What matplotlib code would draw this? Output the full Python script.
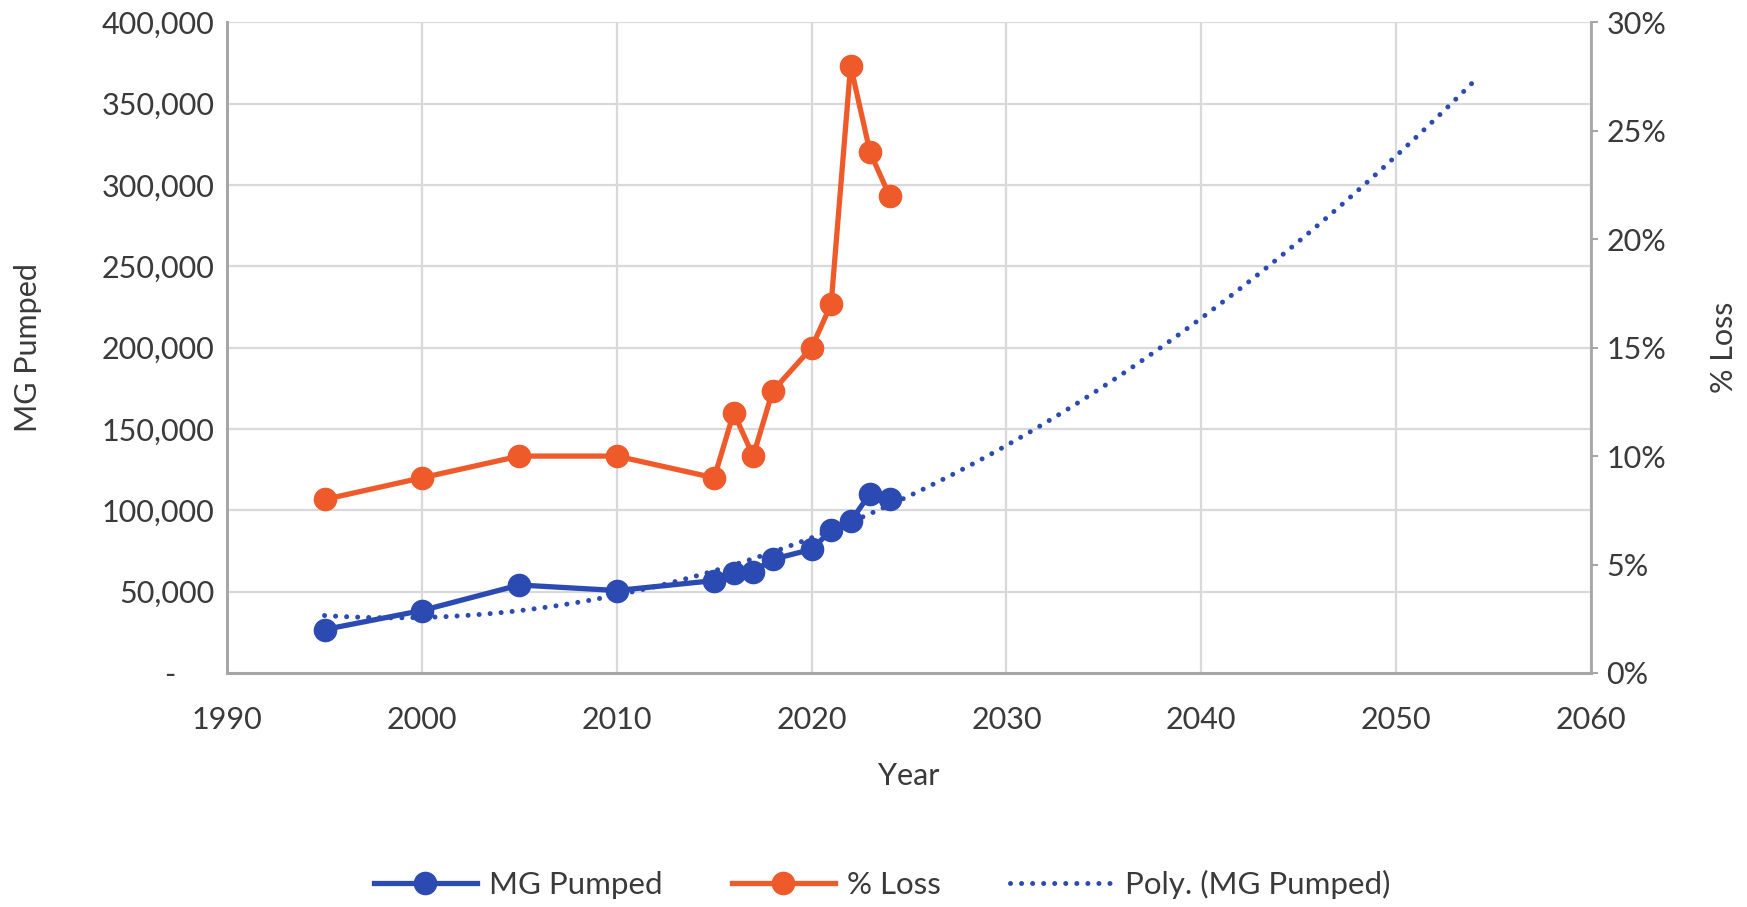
"""
MG pumped per year and % water loss, with a 2nd-order polynomial
trendline on MG pumped projected 30 years ahead (Excel-style).
"""

import numpy as np
import matplotlib
matplotlib.use("Agg")
import matplotlib.pyplot as plt
from matplotlib.lines import Line2D
from matplotlib.ticker import FuncFormatter, MultipleLocator

# --- data ---
years = [1995, 2000, 2005, 2010, 2015, 2016, 2017, 2018, 2020, 2021, 2022, 2023, 2024]
mg_pumped = [26700, 38400, 54100, 50700, 56800, 61600, 62300, 69900, 76000,
             87700, 93200, 110300, 106800]
pct_loss = [0.08, 0.09, 0.10, 0.10, 0.09, 0.12, 0.10, 0.13, 0.15, 0.17, 0.28, 0.24, 0.22]

trend_order = 2
trend_forward = 30  # years projected past the last data point

BLUE = "#2B4BB3"
ORANGE = "#EE5A2A"
TEXT = "#3A3A3A"
GRID = "#D9D9D9"
SPINE = "#A6A6A6"
FONT = "Lato"

plt.rcParams["font.family"] = [FONT, "DejaVu Sans"]

fig = plt.figure(figsize=(17.47, 9.07), dpi=100)
ax = fig.add_axes([0.130, 0.258, 0.7807, 0.7174])
ax2 = ax.twinx()

# polynomial trendline of MG pumped, like Excel's "Poly." trendline
coef = np.polyfit(years, mg_pumped, trend_order)
trend_x = np.linspace(min(years), max(years) + trend_forward, 300)
trend_y = np.polyval(coef, trend_x)

ax.plot(trend_x, trend_y, color=BLUE, lw=3.6, linestyle=(0, (0.01, 2.2)),
        dash_capstyle="round", zorder=3)
ax.plot(years, mg_pumped, color=BLUE, lw=3.8, marker="o", markersize=16, zorder=4)
ax2.plot(years, pct_loss, color=ORANGE, lw=3.8, marker="o", markersize=16, zorder=4)

# left axis
ax.set_xlim(1990, 2060)
ax.set_ylim(0, 400000)
ax.xaxis.set_major_locator(MultipleLocator(10))
ax.yaxis.set_major_locator(MultipleLocator(50000))
ax.yaxis.set_major_formatter(
    FuncFormatter(lambda v, p: "-     " if v == 0 else f"{v:,.0f}"))
ax.grid(True, color=GRID, lw=1.6)
ax.set_axisbelow(True)
ax.tick_params(axis="y", length=0, pad=9, labelsize=22, labelcolor=TEXT)
ax.tick_params(axis="x", length=0, pad=24, labelsize=22, labelcolor=TEXT)

# right axis
ax2.set_ylim(0, 0.30)
ax2.yaxis.set_major_locator(MultipleLocator(0.05))
ax2.yaxis.set_major_formatter(FuncFormatter(lambda v, p: f"{v * 100:.0f}%"))
ax2.tick_params(axis="y", length=5, width=1.5, color=SPINE, pad=6,
                labelsize=22, labelcolor=TEXT)

for a in (ax, ax2):
    a.spines["top"].set_visible(False)
    for side in ("left", "right", "bottom"):
        a.spines[side].set_color(SPINE)
        a.spines[side].set_linewidth(2)
ax.spines["right"].set_visible(False)

ax.set_ylabel("MG Pumped", fontsize=22, color=TEXT)
ax.yaxis.set_label_coords(-0.136, 0.5)
ax2.set_ylabel("% Loss", fontsize=22, color=TEXT)
ax2.yaxis.set_label_coords(1.087, 0.5)
ax.set_xlabel("Year", fontsize=22, color=TEXT)
ax.xaxis.set_label_coords(0.5, -0.137)

handles = [
    Line2D([], [], color=BLUE, lw=3.8, marker="o", markersize=16),
    Line2D([], [], color=ORANGE, lw=3.8, marker="o", markersize=16),
    Line2D([], [], color=BLUE, lw=3.6, linestyle=(0, (0.01, 2.2)),
           dash_capstyle="round"),
]
labels = ["MG Pumped", "% Loss", "Poly. (MG Pumped)"]
leg = fig.legend(handles, labels, loc="center", bbox_to_anchor=(0.505, 0.025),
                 ncol=3, frameon=False, fontsize=22.5, handlelength=3.3,
                 handletextpad=0.4, columnspacing=2.2)
for t in leg.get_texts():
    t.set_color(TEXT)

fig.savefig("out.png", dpi=100)
